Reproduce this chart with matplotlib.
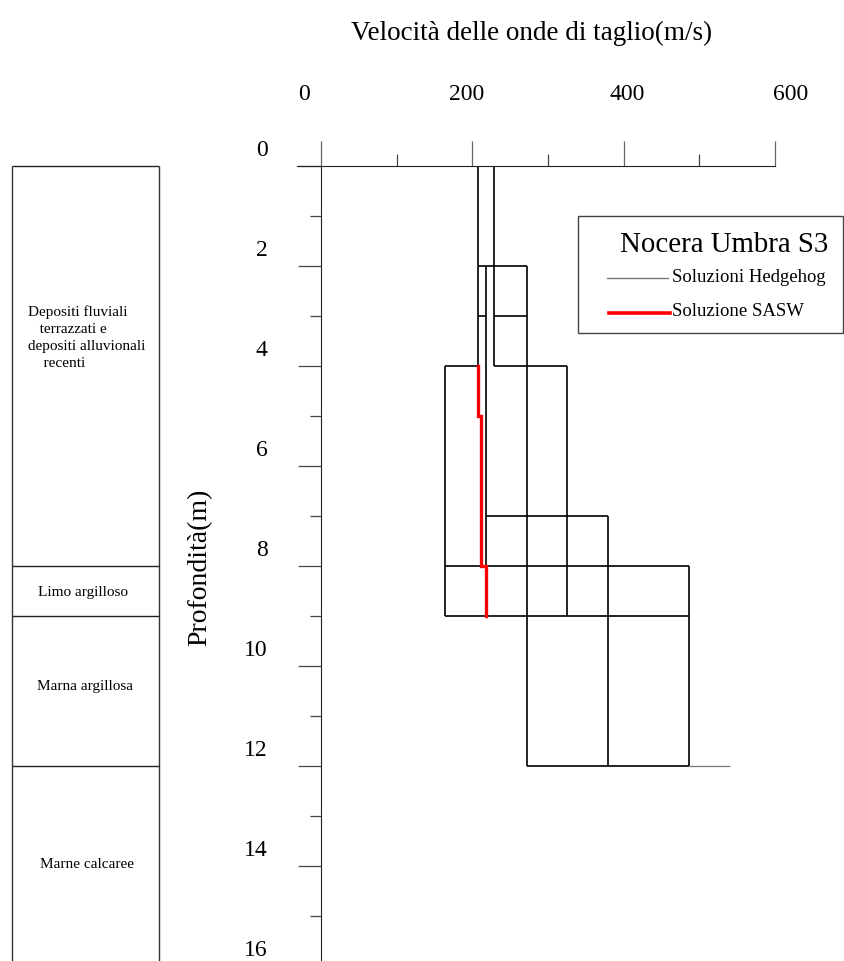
import matplotlib
matplotlib.use("Agg")
import matplotlib.pyplot as plt
from matplotlib.lines import Line2D
from matplotlib.patches import Rectangle
from matplotlib.transforms import ScaledTranslation
import numpy as np

plt.rcParams['font.family'] = ['Liberation Serif', 'DejaVu Serif']

# Hedgehog solutions: vertical segments (velocity, top depth, bottom depth)
hh_vert_v = [207, 228, 218, 272, 164, 325, 379, 486]
hh_vert_top = [0, 0, 2, 2, 4, 4, 7, 8]
hh_vert_bot = [4, 4, 9, 12, 9, 9, 12, 12]
# horizontal segments (depth, velocity from, velocity to)
hh_horiz_d = [2, 3, 3, 4, 4, 7, 8, 9, 12]
hh_horiz_v0 = [207, 207, 228, 164, 228, 218, 164, 164, 272]
hh_horiz_v1 = [272, 218, 272, 207, 325, 379, 486, 486, 486]
# half-space stub below the last layer
halfspace_d = 12
halfspace_v = [486, 540]

# SASW solution (layer boundaries and velocities)
sasw_depth = [4, 5, 8, 9]
sasw_vel = [207, 212, 218]

# stratigraphy column
strata_bounds = [0, 8, 9, 12]
strata_names = ["Depositi fluviali\n   terrazzati e\ndepositi alluvionali\n    recenti",
                "Limo argilloso", "Marna argillosa", "Marne calcaree"]

x_tick_labels = ['0', '200', '400', '600']

W, H = 845, 962
fig = plt.figure(figsize=(W / 100, H / 100), dpi=100)

# main axes: top edge at depth 0 (px 167), bottom at depth 16 (px 967)
ax = fig.add_axes([297 / W, (H - 967) / H, (775 - 297) / W, 800 / H])
ax.set_xlim(-31.7, 600)
ax.set_ylim(16, 0)

for s in ['right', 'bottom']:
    ax.spines[s].set_visible(False)
ax.spines['left'].set_position(('data', 0))
ax.spines['left'].set_color('#222222')
ax.spines['top'].set_color('#222222')

ax.xaxis.tick_top()
ax.set_xticks([0, 200, 400, 600])
ax.set_xticks([100, 300, 500], minor=True)
ax.tick_params(axis='x', which='major', direction='out', length=18, width=0.9,
               color='#666666', labeltop=False)
ax.tick_params(axis='x', which='minor', direction='out', length=8.5, width=0.9,
               color='#444444')

ax.set_yticks(np.arange(0, 17, 2))
ax.set_yticks(np.arange(1, 16, 2), minor=True)
ax.tick_params(axis='y', which='major', direction='out', length=16.5, width=0.9,
               color='#444444', pad=22, labelsize=17)
ax.tick_params(axis='y', which='minor', direction='out', length=8, width=0.9,
               color='#444444')
offset = ScaledTranslation(0, 0.19, fig.dpi_scale_trans)
for lbl in ax.get_yticklabels():
    lbl.set_transform(lbl.get_transform() + offset)

# x labels sit a bit off the ticks in the original
for xv, txt in zip([-23, 192, 405, 620], x_tick_labels):
    ax.annotate(txt, xy=(xv, 1), xycoords=('data', 'axes fraction'),
                xytext=(0, 52), textcoords='offset points',
                ha='center', va='center', fontsize=17)

# Hedgehog solutions
ax.vlines(hh_vert_v, hh_vert_top, hh_vert_bot, colors='black', lw=1.2)
ax.hlines(hh_horiz_d, hh_horiz_v0, hh_horiz_v1, colors='black', lw=1.2)
ax.hlines(halfspace_d, halfspace_v[0], halfspace_v[1], colors='#777777', lw=0.9)

# SASW solution as step profile
sx = np.repeat(sasw_vel, 2)
sy = np.column_stack([sasw_depth[:-1], sasw_depth[1:]]).ravel()
ax.plot(sx, sy, color='red', lw=2.4, solid_joinstyle='miter')

# titles
fig.text(532 / W, 1 - 33 / H, 'Velocità delle onde di taglio(m/s)',
         ha='center', va='center', fontsize=19.5)
fig.text(200 / W, 1 - 567 / H, 'Profondità(m)', rotation=90,
         ha='center', va='center', fontsize=20)

# legend box
fig.add_artist(Rectangle((578 / W, 1 - 334 / H), (843 - 578) / W, (334 - 217) / H,
                         transform=fig.transFigure, fill=False,
                         edgecolor='#444444', lw=1.0))
fig.text(724 / W, 1 - 245 / H, 'Nocera Umbra S3', ha='center', va='center', fontsize=20.8)
fig.add_artist(Line2D([607 / W, 668 / W], [1 - 279 / H, 1 - 279 / H],
                      transform=fig.transFigure, color='#777777', lw=1.0))
fig.text(672 / W, 1 - 277 / H, 'Soluzioni Hedgehog', ha='left', va='center', fontsize=13.5)
fig.add_artist(Line2D([609 / W, 670 / W], [1 - 314 / H, 1 - 314 / H],
                      transform=fig.transFigure, color='red', lw=2.6))
fig.text(672 / W, 1 - 311 / H, 'Soluzione SASW', ha='left', va='center', fontsize=13.5)

# stratigraphy column on the left
axc = fig.add_axes([12 / W, (H - 967) / H, (159 - 12) / W, 800 / H])
axc.set_xlim(0, 1)
axc.set_ylim(16, 0)
axc.axis('off')
axc.vlines([0, 1], strata_bounds[0], 16, colors='#333333', lw=1.0, clip_on=False)
axc.hlines(strata_bounds, 0, 1, colors='#222222', lw=1.0, clip_on=False)

axc.text(0.11, 3.42, strata_names[0], ha='left', va='center', fontsize=11, linespacing=1.4)
axc.text(0.48, 8.52, strata_names[1], ha='center', va='center', fontsize=11)
axc.text(0.5, 10.4, strata_names[2], ha='center', va='center', fontsize=11)
axc.text(0.51, 13.96, strata_names[3], ha='center', va='center', fontsize=11)

fig.savefig('out.png', dpi=100)
